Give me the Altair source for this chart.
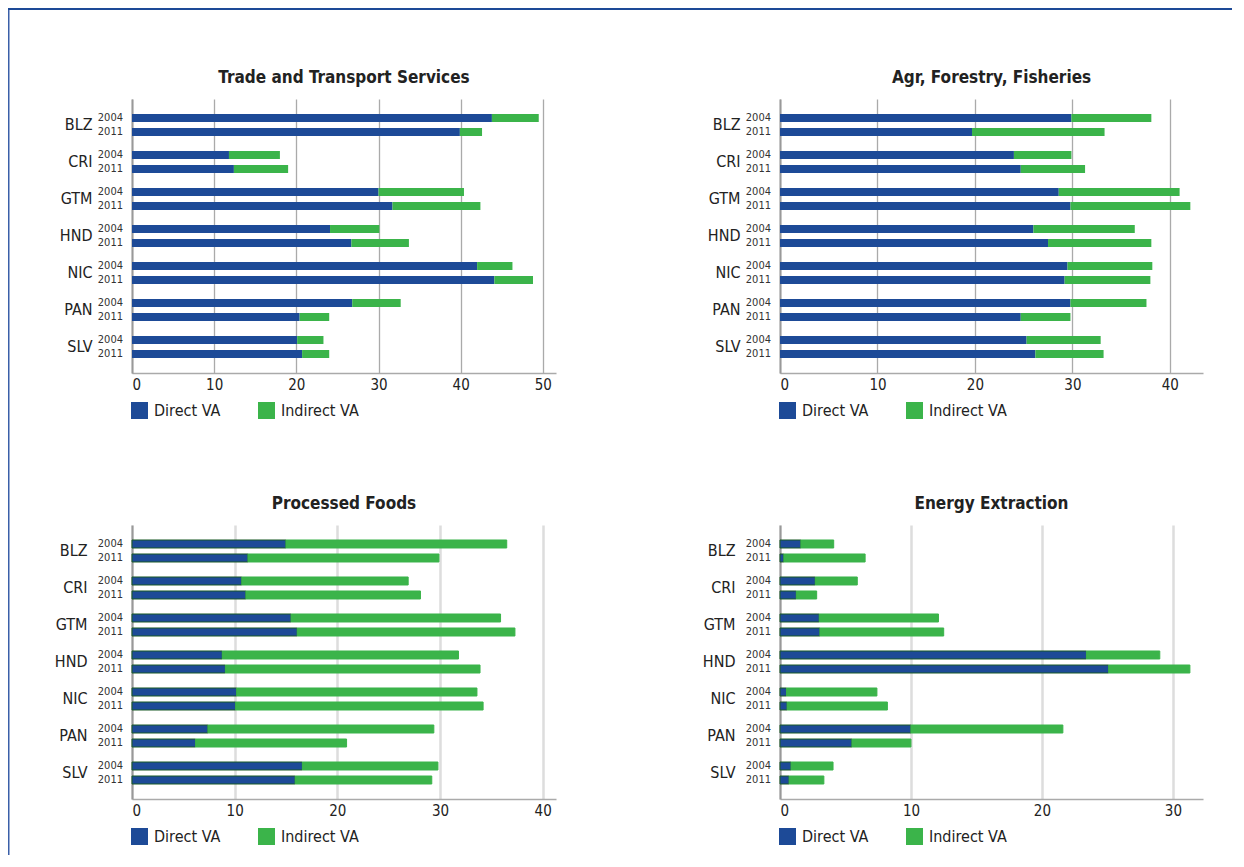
import altair as alt
import pandas as pd

countries = ["BLZ", "CRI", "GTM", "HND", "NIC", "PAN", "SLV"]
years = ["2004", "2011"]
series = ["Direct VA", "Indirect VA"]

# values ordered BLZ-2004, BLZ-2011, CRI-2004, CRI-2011, ...
trade_direct = [43.8, 39.9, 11.8, 12.4, 30.0, 31.7, 24.1, 26.7, 42.0, 44.1, 26.8, 20.4, 20.1, 20.7]
trade_indirect = [5.7, 2.7, 6.2, 6.6, 10.4, 10.7, 6.0, 7.0, 4.3, 4.7, 5.9, 3.6, 3.2, 3.3]
agr_direct = [29.9, 19.7, 24.0, 24.7, 28.6, 29.8, 26.0, 27.5, 29.5, 29.2, 29.8, 24.7, 25.3, 26.2]
agr_indirect = [8.2, 13.6, 5.9, 6.6, 12.4, 12.3, 10.4, 10.6, 8.7, 8.8, 7.8, 5.1, 7.6, 7.0]
food_direct = [15.0, 11.3, 10.7, 11.1, 15.5, 16.1, 8.8, 9.1, 10.2, 10.1, 7.4, 6.2, 16.6, 15.9]
food_indirect = [21.5, 18.6, 16.2, 17.0, 20.4, 21.2, 23.0, 24.8, 23.4, 24.1, 22.0, 14.7, 13.2, 13.3]
energy_direct = [1.6, 0.3, 2.7, 1.25, 3.0, 3.05, 23.4, 25.1, 0.5, 0.55, 10.0, 5.5, 0.85, 0.7]
energy_indirect = [2.5, 6.2, 3.2, 1.55, 9.1, 9.45, 5.6, 6.2, 6.9, 7.65, 11.6, 4.5, 3.2, 2.65]

titles = ["Trade and Transport Services", "Agr, Forestry, Fisheries",
          "Processed Foods", "Energy Extraction"]
x_max = [51.6, 43.4, 41.3, 32.3]
x_ticks = [[0, 10, 20, 30, 40, 50], [0, 10, 20, 30, 40], [0, 10, 20, 30, 40], [0, 10, 20, 30]]

FONT = "Liberation Sans Narrow, DejaVu Sans Condensed, Arial Narrow, sans-serif"
BLUE = "#1d4a97"
GREEN = "#3bb44a"
TXT = "#222222"


def make_df(direct, indirect):
    rows = []
    k = 0
    for c in countries:
        for y in years:
            rows.append({"country": c, "year": y, "series": series[0], "value": direct[k], "ord": 0})
            rows.append({"country": c, "year": y, "series": series[1], "value": indirect[k], "ord": 1})
            k += 1
    return pd.DataFrame(rows)


year_df = pd.DataFrame([{"country": c, "year": y} for c in countries for y in years])


def panel(i, direct, indirect, top_row, deco=False):
    df = make_df(direct, indirect)
    width = 424 if i % 2 == 0 else 423
    grid_color = "#aaaaaa" if top_row else "#dddddd"
    grid_width = 1.3 if top_row else 2.5
    label_pad = 40 if top_row else 45
    y_axis = alt.Axis(title=None, labelFontSize=16, labelFont=FONT, labelColor=TXT,
                      labelPadding=label_pad, ticks=False, domainColor="#999999",
                      domainWidth=2, labelBaseline="middle")
    y_scale = alt.Scale(paddingInner=0.243, paddingOuter=0.324)
    yoff_scale = alt.Scale(paddingInner=0.4286, paddingOuter=0.2143)
    y_enc = alt.Y("country:N", sort=countries, scale=y_scale, axis=y_axis)
    yoff_enc = alt.YOffset("year:N", sort=years, scale=yoff_scale)

    bar_kwargs = {}
    if not top_row:
        bar_kwargs = dict(strokeWidth=1)
    bars = alt.Chart(df).mark_bar(**bar_kwargs).encode(
        x=alt.X("value:Q", stack="zero",
                scale=alt.Scale(domain=[0, x_max[i]], nice=False, zero=True),
                axis=alt.Axis(title=None, values=x_ticks[i], grid=True, gridColor=grid_color,
                              gridWidth=grid_width, ticks=False, labelFontSize=15,
                              labelFont=FONT, labelColor=TXT, labelPadding=4,
                              domainColor="#aaaaaa", domainWidth=1.5)),
        y=y_enc,
        yOffset=yoff_enc,
        color=alt.Color("series:N", scale=alt.Scale(domain=series, range=[BLUE, GREEN]),
                        legend=alt.Legend(title=None, orient="none", legendX=-1, legendY=303,
                                          direction="horizontal", symbolType="square",
                                          symbolSize=289, symbolStrokeWidth=0,
                                          labelFontSize=16, labelFont=FONT, labelColor=TXT,
                                          labelOffset=6, columnPadding=37, padding=0)),
        order=alt.Order("ord:Q"),
    )
    if not top_row:
        bars = bars.encode(
            stroke=alt.condition("datum.series == 'Direct VA'", alt.value("#1a5a26"),
                                 alt.value(GREEN))
        )

    years_txt = alt.Chart(year_df).mark_text(
        align="right", baseline="middle", fontSize=11, font=FONT, color="#333333"
    ).encode(y=y_enc, yOffset=yoff_enc, x=alt.value(-9), text="year:N")

    one = pd.DataFrame({"a": [0]})
    title_txt = alt.Chart(one).mark_text(
        text=titles[i], align="center", baseline="alphabetic", font=FONT, fontSize=17,
        fontWeight="bold", color=TXT
    ).encode(x=alt.value(width / 2), y=alt.value(-16))

    layers = [bars, years_txt, title_txt]
    if deco:
        band = alt.Chart(one).mark_rect(color=BLUE).encode(
            x=alt.value(-124), x2=alt.value(1100), y=alt.value(-91), y2=alt.value(-89))
        side = alt.Chart(one).mark_rect(color="#3a5fa8").encode(
            x=alt.value(-124), x2=alt.value(-122.5), y=alt.value(-89), y2=alt.value(756))
        layers = [band, side] + layers

    return alt.layer(*layers).properties(width=width, height=274)


p1 = panel(0, trade_direct, trade_indirect, True, deco=True)
p2 = panel(1, agr_direct, agr_indirect, True)
p3 = panel(2, food_direct, food_indirect, False)
p4 = panel(3, energy_direct, energy_indirect, False)

chart = alt.concat(p1, p2, p3, p4, columns=2, spacing={"row": 152, "column": 224},
                   bounds="flush").resolve_legend(color="independent").properties(
    padding={"left": 0, "top": 0, "right": 0, "bottom": 0},
    background="white",
).configure_view(stroke=None)

chart.save("out.html", embed_options={"renderer": "svg", "actions": False})
